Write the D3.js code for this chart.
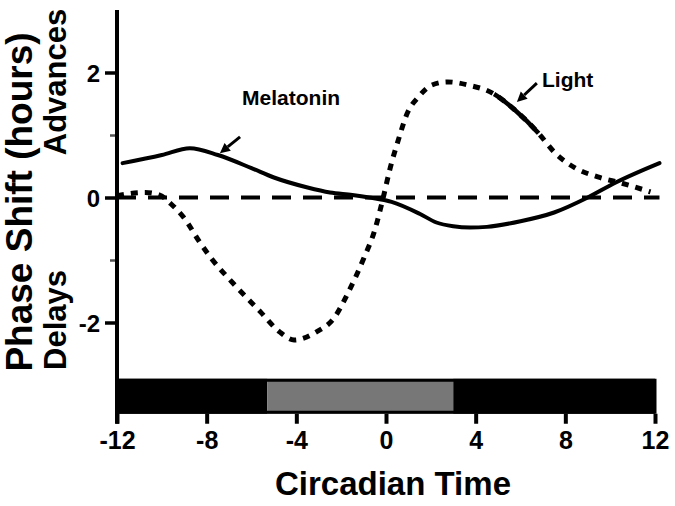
<!DOCTYPE html>
<html>
<head>
<meta charset="utf-8">
<script src="https://cdn.jsdelivr.net/npm/d3@7"></script>
<style>
  html, body { margin: 0; padding: 0; background: #fff; }
  svg { display: block; }
  text { font-family: "Liberation Sans", Arial, Helvetica, sans-serif; font-weight: bold; fill: #000; }
</style>
</head>
<body>
<svg id="chart" width="675" height="506"></svg>
<script>
// ---- data ----
const melatoninCT  = [-11.75, -10, -8.75, -7.5, -6, -5, -3.5, -2.5, -1.5, -0.75, 0.25, 1.5, 2.25, 3, 3.75, 4.5, 6, 7.5, 9, 10.25, 12.2];
const melatoninVal = [0.55, 0.68, 0.79, 0.68, 0.47, 0.32, 0.16, 0.08, 0.04, 0.0, -0.07, -0.26, -0.4, -0.46, -0.48, -0.47, -0.38, -0.24, 0.0, 0.24, 0.55];

const lightCT  = [-12, -10.75, -10.1, -9.6, -9.0, -8.3, -7.8, -6.8, -5.6, -4.75, -4.1, -3.1, -2.3, -1.7, -1.0, -0.5, -0.15, 0.2, 0.55, 0.95, 1.45, 2.05, 2.75, 3.65, 4.75, 5.75, 6.8, 7.55, 8.45, 9.45, 10.5, 11.8];
const lightVal = [0.03, 0.08, 0.04, -0.1, -0.33, -0.72, -0.97, -1.38, -1.83, -2.15, -2.28, -2.15, -1.92, -1.53, -0.98, -0.52, -0.04, 0.49, 0.92, 1.35, 1.61, 1.8, 1.85, 1.8, 1.67, 1.4, 1.03, 0.71, 0.47, 0.33, 0.23, 0.09];
const lightSolidRange = [4.8, 6.8];   // part of the light curve drawn solid

const xTicks = [-12, -8, -4, 0, 4, 8, 12];
const yTicksMajor = [-2, 0, 2];
const yTicksMinor = [-1, 1];

// light/dark bar (circadian time)
const barStart = [-12, -5.3, 3];
const barEnd   = [-5.3, 3, 12];
const barKind  = ["dark", "grey", "dark"];
const barValTop = -2.9, barValBottom = -3.46;

// annotations: label, label anchor (CT, value), arrow from, arrow tip
const annLabels = ["Melatonin", "Light"];
const annLabelCT = [-6.42, 6.96];
const annLabelVal = [1.48, 1.77];
const annArrowFromCT = [-6.51, 6.73];
const annArrowFromVal = [0.97, 1.83];
const annArrowToCT = [-7.41, 5.84];
const annArrowToVal = [0.71, 1.53];

// ---- layout ----
const svg = d3.select("#chart");
const x = d3.scaleLinear().domain([-12, 12]).range([117, 655]);
const y = d3.scaleLinear().domain([3, -3.62]).range([10, 423.75]);

const colors = { dark: "#000", grey: "#777" };

// bar
const bars = barStart.map((s, i) => ({ s, e: barEnd[i], k: barKind[i] }));
svg.append("g").selectAll("rect").data(bars).join("rect")
  .attr("x", d => x(d.s)).attr("width", d => x(d.e) - x(d.s))
  .attr("y", y(barValTop)).attr("height", y(barValBottom) - y(barValTop))
  .attr("fill", d => colors[d.k]);
svg.append("rect")
  .attr("x", x(-12)).attr("width", x(12) - x(-12))
  .attr("y", y(barValTop) + 1.5).attr("height", y(barValBottom) - y(barValTop) - 3)
  .attr("fill", "none").attr("stroke", "#000").attr("stroke-width", 3);

// zero dashed line
svg.append("line")
  .attr("x1", x(-12)).attr("x2", x(12.2))
  .attr("y1", y(0)).attr("y2", y(0))
  .attr("stroke", "#000").attr("stroke-width", 4)
  .attr("stroke-dasharray", "19,12");

// curves
const line = d3.line().x(d => x(d[0])).y(d => y(d[1])).curve(d3.curveMonotoneX);
const melData = melatoninCT.map((c, i) => [c, melatoninVal[i]]);
const lightData = lightCT.map((c, i) => [c, lightVal[i]]);

svg.append("path").attr("d", line(lightData))
  .attr("fill", "none").attr("stroke", "#000").attr("stroke-width", 5)
  .attr("stroke-dasharray", "7,7");

// solid part of light curve
const lightPath = svg.append("path").attr("d", line(lightData))
  .attr("fill", "none").attr("stroke", "#000").attr("stroke-width", 4.5);
(function () {
  const node = lightPath.node();
  const L = node.getTotalLength();
  let a = null, b = null;
  for (let t = 0; t <= L; t += 0.5) {
    const p = node.getPointAtLength(t);
    if (a === null && p.x >= x(lightSolidRange[0])) a = t;
    if (b === null && p.x >= x(lightSolidRange[1])) b = t;
  }
  lightPath.attr("stroke-dasharray", `0,${a},${b - a},${L}`);
})();

svg.append("path").attr("d", line(melData))
  .attr("fill", "none").attr("stroke", "#000").attr("stroke-width", 4)
  .attr("stroke-linecap", "round");

// y axis
const yAxis = d3.axisLeft(y).tickValues(yTicksMajor).tickSize(12).tickSizeOuter(0).tickPadding(5).tickFormat(d3.format("d"));
const gy = svg.append("g").attr("transform", `translate(${x(-12)},0)`).call(yAxis);
gy.select(".domain").remove();
gy.selectAll(".tick line").attr("stroke", "#000").attr("stroke-width", 3.5);
gy.selectAll(".tick text").attr("font-size", 24).attr("dy", "0.36em")
  .text(d => d < 0 ? "-" + Math.abs(d) : d);
const gyMinor = svg.append("g").attr("transform", `translate(${x(-12)},0)`)
  .call(d3.axisLeft(y).tickValues(yTicksMinor).tickSize(7).tickSizeOuter(0).tickFormat(""));
gyMinor.select(".domain").remove();
gyMinor.selectAll(".tick line").attr("stroke", "#555").attr("stroke-width", 2.5);
svg.append("line")
  .attr("x1", x(-12)).attr("x2", x(-12))
  .attr("y1", y(3)).attr("y2", y(-3.62))
  .attr("stroke", "#000").attr("stroke-width", 4);

// x axis (below bar)
const xAxis = d3.axisBottom(x).tickValues(xTicks).tickSize(10).tickSizeOuter(0).tickPadding(6)
  .tickFormat(d => d < 0 ? "-" + Math.abs(d) : String(d));
const gx = svg.append("g").attr("transform", `translate(0,${y(barValBottom)})`).call(xAxis);
gx.select(".domain").remove();
gx.selectAll(".tick line").attr("stroke", "#000").attr("stroke-width", 4);
gx.selectAll(".tick text").attr("font-size", 25).attr("dy", "0.75em");

// axis titles
svg.append("text").attr("x", 393).attr("y", 495).attr("text-anchor", "middle")
  .attr("font-size", 33).text("Circadian Time");
svg.append("text").attr("transform", "translate(32,202) rotate(-90)")
  .attr("text-anchor", "middle").attr("font-size", 37).text("Phase Shift (hours)");
svg.append("text").attr("transform", "translate(66,82) rotate(-90)")
  .attr("text-anchor", "middle").attr("font-size", 31).text("Advances");
svg.append("text").attr("transform", "translate(66,320) rotate(-90)")
  .attr("text-anchor", "middle").attr("font-size", 31).text("Delays");

// annotations
annLabels.forEach((lab, i) => {
  svg.append("text").attr("x", x(annLabelCT[i])).attr("y", y(annLabelVal[i]))
    .attr("font-size", 21).text(lab);
  const x1 = x(annArrowFromCT[i]), y1 = y(annArrowFromVal[i]);
  const x2 = x(annArrowToCT[i]), y2 = y(annArrowToVal[i]);
  const ang = Math.atan2(y2 - y1, x2 - x1);
  const hl = 10, hw = 5;
  const bx = x2 - hl * Math.cos(ang), by = y2 - hl * Math.sin(ang);
  svg.append("line").attr("x1", x1).attr("y1", y1).attr("x2", bx).attr("y2", by)
    .attr("stroke", "#000").attr("stroke-width", 3);
  const px = -Math.sin(ang), py = Math.cos(ang);
  svg.append("path")
    .attr("d", `M${x2},${y2}L${bx + hw * px},${by + hw * py}L${bx - hw * px},${by - hw * py}Z`)
    .attr("fill", "#000");
});
</script>
</body>
</html>
